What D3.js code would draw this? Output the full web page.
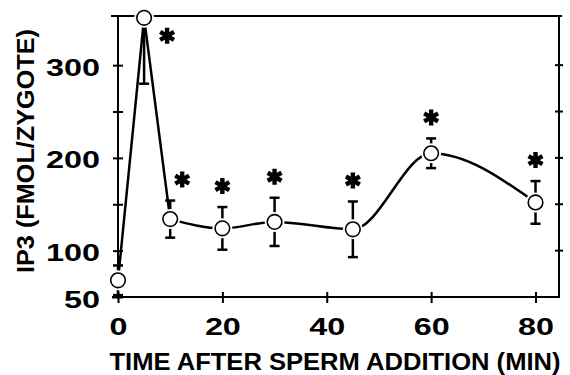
<!DOCTYPE html>
<html>
<head>
<meta charset="utf-8">
<script src="https://cdn.jsdelivr.net/npm/d3@7"></script>
<style>
  body { margin: 0; background: #fff; }
  svg { display: block; font-family: "Liberation Sans", Arial, sans-serif; font-weight: bold; }
</style>
</head>
<body>
<div id="chart"></div>
<script>
// time after sperm addition (min), IP3 mean and error (fmol / zygote)
const times = [0, 5, 10, 20, 30, 45, 60, 80];
const ip3 = [68, 351, 134, 124, 131, 123, 205, 152];
const sem = [16, 71, 20, 23, 26, 30, 16, 23];
const significant = [false, true, true, true, true, true, true, true];
const xTicks = [0, 20, 40, 60, 80];
const yTicks = [50, 100, 150, 200, 250, 300];
const yLabels = [50, 100, 200, 300];

const W = 570, H = 375;
const plot = {left: 118, right: 559, top: 16, bottom: 297};

let x = d3.scaleLinear().domain([0, 84.5]).range([plot.left, plot.right]);
let y = d3.scaleLinear().domain([50, 353]).range([plot.bottom, plot.top]);

let data = times.map((t, i) => ({t: t, v: ip3[i], e: sem[i], star: significant[i]}));

let svg = d3.select("#chart").append("svg")
    .attr("width", W)
    .attr("height", H);

svg.append("defs").append("clipPath")
    .attr("id", "plotclip")
  .append("rect")
    .attr("x", 0).attr("y", plot.top)
    .attr("width", W).attr("height", plot.bottom - plot.top);

// frame: top and right lines
svg.append("line")
    .attr("x1", plot.left - 7).attr("x2", plot.right + 3)
    .attr("y1", plot.top).attr("y2", plot.top)
    .attr("stroke", "#000").attr("stroke-width", 2);
svg.append("line")
    .attr("x1", plot.right).attr("x2", plot.right)
    .attr("y1", plot.top).attr("y2", plot.bottom)
    .attr("stroke", "#000").attr("stroke-width", 2);

// right axis ticks (no labels)
svg.append("g").selectAll("line")
    .data(yTicks.filter(d => d > 50))
    .join("line")
    .attr("x1", plot.right - 4).attr("x2", plot.right + 4)
    .attr("y1", d => y(d)).attr("y2", d => y(d))
    .attr("stroke", "#000").attr("stroke-width", 2);

// left axis
let yAxis = svg.append("g")
    .attr("transform", `translate(${plot.left},0)`)
    .call(d3.axisLeft(y).tickValues(yTicks).tickSize(0).tickPadding(18)
        .tickFormat(d => yLabels.includes(d) ? d : ""));
yAxis.select(".domain").remove();
yAxis.append("line")
    .attr("y1", plot.top).attr("y2", plot.bottom + 2)
    .attr("stroke", "#000").attr("stroke-width", 2);
yAxis.selectAll(".tick line")
    .attr("x1", d => d === 50 ? -6 : -5).attr("x2", 5)
    .attr("stroke-width", 2);
yAxis.selectAll(".tick text")
    .attr("fill", "#000")
    .style("font-size", "24px")
    .attr("dy", "0.42em")
    .attr("textLength", d => String(d).length * 18)
    .attr("lengthAdjust", "spacingAndGlyphs");

// bottom axis
let xAxis = svg.append("g")
    .attr("transform", `translate(0,${plot.bottom})`)
    .call(d3.axisBottom(x).tickValues(xTicks).tickSize(0).tickPadding(21));
xAxis.select(".domain").remove();
xAxis.append("line")
    .attr("x1", plot.left - 6).attr("x2", plot.right + 1)
    .attr("stroke", "#000").attr("stroke-width", 2);
xAxis.selectAll(".tick line")
    .attr("y1", -5).attr("y2", 6)
    .attr("stroke-width", 2);
xAxis.selectAll(".tick text")
    .attr("fill", "#000")
    .style("font-size", "24px")
    .attr("dy", "0.71em")
    .attr("textLength", d => String(d).length * 18)
    .attr("lengthAdjust", "spacingAndGlyphs");

// axis titles
svg.append("text")
    .attr("x", 335).attr("y", 370)
    .attr("text-anchor", "middle")
    .style("font-size", "23px")
    .attr("textLength", 451)
    .attr("lengthAdjust", "spacingAndGlyphs")
    .text("TIME AFTER SPERM ADDITION (MIN)");

svg.append("text")
    .attr("transform", "translate(34,151) rotate(-90)")
    .attr("text-anchor", "middle")
    .style("font-size", "24px")
    .attr("textLength", 244)
    .attr("lengthAdjust", "spacingAndGlyphs")
    .text("IP3 (FMOL/ZYGOTE)");

// connecting line: straight rise and fall, then a smooth curve
let line = d3.line().x(d => x(d.t)).y(d => y(d.v));
svg.append("path")
    .attr("d", line(data.slice(0, 3)))
    .attr("fill", "none").attr("stroke", "#000").attr("stroke-width", 2.5);
svg.append("path")
    .attr("d", line.curve(d3.curveMonotoneX)(data.slice(2)))
    .attr("fill", "none").attr("stroke", "#000").attr("stroke-width", 2.5);

// error bars
let bars = svg.append("g").attr("clip-path", "url(#plotclip)")
    .selectAll("g").data(data).join("g")
    .attr("stroke", "#000").attr("stroke-width", 2.5);
bars.append("line")
    .attr("x1", d => x(d.t)).attr("x2", d => x(d.t))
    .attr("y1", d => y(d.v + d.e)).attr("y2", d => y(d.v - d.e));
bars.append("line")
    .attr("x1", d => x(d.t) - 5).attr("x2", d => x(d.t) + 5)
    .attr("y1", d => y(d.v + d.e)).attr("y2", d => y(d.v + d.e));
bars.append("line")
    .attr("x1", d => x(d.t) - 5).attr("x2", d => x(d.t) + 5)
    .attr("y1", d => y(d.v - d.e)).attr("y2", d => y(d.v - d.e));

// points with a white halo
let pts = svg.append("g").selectAll("g").data(data).join("g")
    .attr("transform", d => `translate(${x(d.t)},${y(d.v)})`);
pts.append("circle").attr("r", 10).attr("fill", "#fff");
pts.append("circle").attr("r", 7.3)
    .attr("fill", "#fff").attr("stroke", "#000").attr("stroke-width", 1.6);

// significance asterisks
let star = d3.symbol(d3.symbolAsterisk, 180);
svg.append("g").selectAll("path")
    .data(data.filter(d => d.star))
    .join("path")
    .attr("d", star)
    .attr("transform", d => {
        if (d.t === 5) return `translate(${x(d.t) + 23},${y(d.v) + 18})`;
        let dx = d.t === 10 ? 12 : 0;
        return `translate(${x(d.t) + dx},${y(d.v + d.e) - 21})`;
    })
    .attr("fill", "none").attr("stroke", "#000").attr("stroke-width", 4.4);
</script>
</body>
</html>
